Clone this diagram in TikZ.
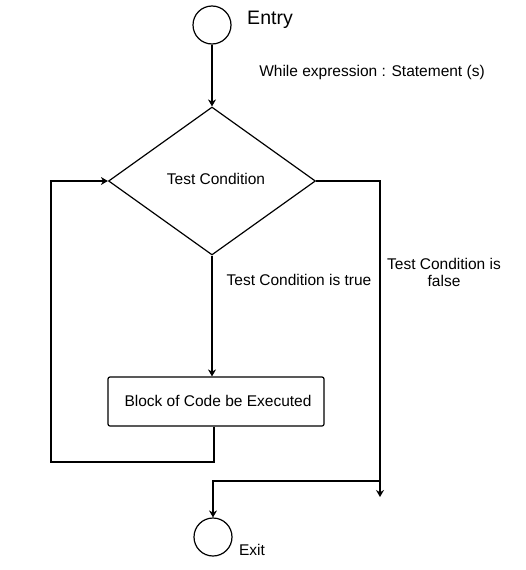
\documentclass[tikz,border=0pt]{standalone}
\usepackage{fontspec}
\setmainfont{Liberation Sans}
\usetikzlibrary{shapes.geometric,arrows.meta}
\begin{document}
\begin{tikzpicture}[x=1pt,y=-1pt,
  conn/.style={line width=1.8pt,-{Stealth[length=7pt,width=8pt]}},
  shp/.style={draw,line width=1.2pt},
  lbl/.style={font=\fontsize{15.5}{17}\selectfont,inner sep=0pt}]
\useasboundingbox[fill=white] (0,0) rectangle (526,570);
\node[shp,circle,minimum size=38pt,inner sep=0pt] (entry) at (212,25) {};
\node[inner sep=0pt,font=\fontsize{19.5}{22}\selectfont] (entrylbl) at (270,20) {Entry};
\node[lbl] (while) at (372,72) {While expression : Statement (s)};
\node[shp,diamond,minimum width=207pt,minimum height=148pt,inner sep=0pt,font=\fontsize{15.5}{17}\selectfont] (cond) at (212,181) {\raisebox{4pt}{\hspace{8pt}Test Condition}};
\node[shp,rectangle,rounded corners=2pt,minimum width=216pt,minimum height=49pt,inner sep=0pt,font=\fontsize{15.5}{17}\selectfont] (box) at (216,401.5) {\raisebox{1pt}{\hspace{4pt}Block of Code be Executed}};
\node[shp,circle,minimum size=38pt,inner sep=0pt] (exit) at (213,537) {};
\node[lbl] (exitlbl) at (252,550) {Exit};
\node[lbl] (truelbl) at (299,280) {Test Condition is true};
\node[lbl,align=center] (falselbl) at (444,272) {Test Condition is\\false};
\coordinate (l1) at (51,462);
\coordinate (r1) at (380,497);
\coordinate (j) at (380,481);
\draw[conn] (entry.south) -- (cond.north);
\draw[conn] (cond.south) -- (cond.south |- box.north);
\draw[conn] ([xshift=-2pt]box.south) |- (l1) |- (cond.west);
\draw[conn] (cond.east) -| (r1);
\draw[conn] (j) -| (exit.north);
\end{tikzpicture}
\end{document}
